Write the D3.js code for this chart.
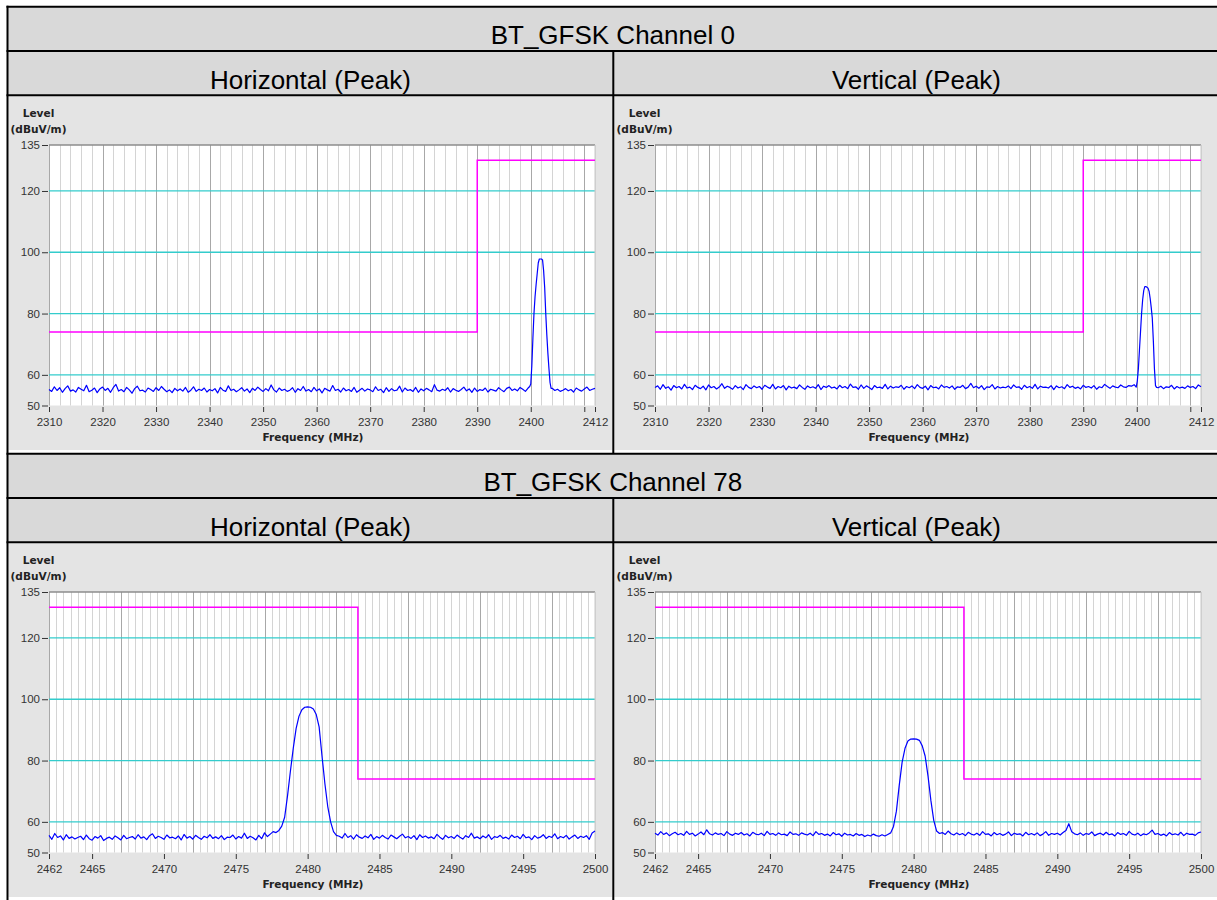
<!DOCTYPE html>
<html>
<head>
<meta charset="utf-8">
<script src="https://cdn.jsdelivr.net/npm/d3@7"></script>
<style>
  body { margin: 0; background: #fff; }
  svg { display: block; }
</style>
</head>
<body>
<svg id="page" width="1217" height="900"></svg>
<script>
// ---- data ----
const blockTitles = ["BT_GFSK Channel 0", "BT_GFSK Channel 78"];
const colTitles = ["Horizontal (Peak)", "Vertical (Peak)"];

const yTicks = [50, 60, 80, 100, 120, 135];
const yGrid = [60, 80, 100, 120];

const ch0Domain = [2310, 2412];
const ch0Ticks = [2310, 2320, 2330, 2340, 2350, 2360, 2370, 2380, 2390, 2400, 2410, 2412];
const ch0Unlabelled = [2410];
const ch0Limit = [[2310, 74], [2390, 74], [2390, 130], [2412, 130]];

const ch78Domain = [2462, 2500];
const ch78Ticks = [2462, 2465, 2470, 2475, 2480, 2485, 2490, 2495, 2500];
const ch78Unlabelled = [];
const ch78Limit = [[2462, 130], [2483.5, 130], [2483.5, 74], [2500, 74]];

// Channel 0, horizontal: noise floor 2310..2399.5 MHz (0.5 MHz steps)
const hCh0NoiseLo = [
  55.2,54.6,56.1,54.9,55.8,54.3,55.5,56.4,54.7,55.1,
  54.4,55.9,55.3,54.8,56.6,54.5,55.0,55.7,54.2,55.4,
  56.0,54.9,55.6,54.3,55.8,56.9,54.7,55.2,54.5,55.9,
  55.1,54.0,55.5,56.3,54.8,55.0,54.4,55.7,55.2,54.6,
  55.8,54.9,56.2,55.3,54.5,55.1,54.2,55.6,54.8,55.4,
  54.7,55.9,54.3,55.0,56.1,54.6,55.3,54.9,55.7,54.4,
  55.2,54.8,55.5,54.1,55.9,55.0,54.6,56.4,54.9,55.3,
  54.5,55.1,55.8,54.7,55.4,54.2,55.6,54.9,56.0,55.2,
  54.6,55.5,54.8,56.7,55.1,54.4,55.7,54.9,55.3,54.6,
  55.0,55.8,54.3,55.5,54.9,56.2,54.7,55.2,54.5,55.9,
  54.8,55.4,54.1,55.6,55.1,54.7,56.5,54.9,55.3,54.4,
  55.7,54.8,55.2,54.6,55.9,54.3,55.0,55.6,54.7,55.4,
  55.1,54.5,56.1,54.9,55.3,54.2,55.8,54.6,55.5,54.8,
  55.0,56.3,54.4,55.7,54.9,55.2,54.6,55.9,54.3,55.4,
  54.8,55.6,55.1,54.5,56.8,55.0,54.7,55.3,54.9,55.8,
  54.4,55.5,55.0,54.6,55.2,56.0,54.8,55.4,54.3,55.7,
  54.6,55.2,54.9,55.7,54.4,55.3,55.0,54.7,55.8,55.1,
  54.5,55.6,56.0,54.9,55.4,54.8,55.9,55.3,54.6,55.7
];
const hCh0Peak = [
  [2399.8,56.2],[2400.0,57.0],[2400.2,63.0],[2400.4,72.0],[2400.6,80.0],[2400.8,85.5],
  [2401.0,89.5],[2401.2,93.0],[2401.4,96.5],[2401.6,97.8],[2401.8,97.8],[2402.0,97.8],
  [2402.2,97.5],[2402.4,94.0],[2402.6,88.5],[2402.8,80.0],[2403.0,73.0],[2403.2,67.0],
  [2403.4,62.0],[2403.6,57.5],[2403.8,55.6]
];
// 2404..2412 MHz
const hCh0NoiseHi = [55.6,54.9,55.3,54.6,55.0,55.5,54.8,55.2,54.4,55.7,55.1,54.7,55.4,56.0,54.9,55.3,55.6];

// Channel 0, vertical
const vCh0NoiseLo = [
  55.9,56.4,55.3,56.8,55.6,56.1,55.0,56.5,55.8,56.2,
  55.4,56.9,55.7,56.0,55.2,56.6,55.9,55.5,56.3,55.1,
  56.7,55.8,56.2,55.4,56.0,57.1,55.6,56.3,55.9,55.3,
  56.5,55.7,56.1,55.2,56.8,55.9,55.5,56.4,55.8,56.2,
  55.3,56.6,56.0,55.6,56.9,55.4,56.2,55.8,56.5,55.1,
  56.3,55.7,56.0,55.5,56.7,55.9,55.3,56.4,55.8,56.1,
  55.6,56.8,55.2,56.3,55.9,56.5,55.7,56.0,55.4,56.6,
  55.8,56.2,55.5,57.0,55.9,56.1,55.3,56.7,55.6,56.4,
  55.9,55.2,56.5,55.8,56.0,55.6,56.9,55.4,56.3,55.7,
  56.1,55.9,56.6,55.3,56.2,55.8,56.4,55.5,56.8,55.9,
  55.6,56.3,55.1,56.5,55.8,56.0,55.4,56.7,55.9,56.2,
  55.7,56.4,55.3,56.1,55.9,56.6,55.5,56.0,57.2,55.8,
  56.3,55.6,56.5,55.2,56.1,55.9,56.8,55.4,56.2,55.7,
  56.0,55.8,56.4,55.5,56.7,55.9,56.1,55.3,56.6,55.8,
  56.2,55.6,56.9,55.4,56.3,55.9,56.0,55.7,56.5,55.2,
  56.4,55.8,56.1,55.5,56.8,55.9,56.3,55.6,56.0,55.4,
  56.6,55.9,56.2,55.7,56.5,55.3,56.1,55.8,56.9,56.2,
  55.6,56.4,56.0,55.8,56.7,56.1,55.9,56.5,56.3,56.8
];
const vCh0Peak = [
  [2399.9,56.0],[2400.1,58.0],[2400.3,62.0],[2400.5,68.0],[2400.7,74.0],[2400.9,80.0],
  [2401.1,84.5],[2401.3,87.5],[2401.5,88.8],[2401.7,88.8],[2401.9,88.6],[2402.1,88.3],
  [2402.3,87.3],[2402.5,85.0],[2402.7,82.0],[2402.9,78.5],[2403.1,71.0],[2403.3,62.0],
  [2403.5,56.5],[2403.7,55.9]
];
const vCh0NoiseHi = [55.8,56.3,55.5,56.1,55.9,56.6,55.4,56.2,55.7,56.0,55.6,56.4,55.9,56.2,55.5,56.7,56.1];

// Channel 78, horizontal: 2462..2477.6 MHz (0.2 MHz steps)
const hCh78NoiseLo = [
  55.6,54.3,56.2,54.9,55.4,54.1,55.8,54.6,55.1,54.4,
  54.9,55.3,54.2,55.7,54.5,54.0,55.2,54.7,55.5,53.9,
  54.6,55.0,54.3,55.4,54.8,54.1,55.6,54.5,54.9,55.2,
  54.4,55.8,54.7,55.1,54.2,55.5,56.1,54.6,55.3,54.9,
  54.3,55.7,54.8,55.0,54.5,55.4,54.1,55.9,54.7,55.2,
  54.4,55.6,54.9,54.3,55.3,54.8,55.8,54.6,55.1,54.5,
  55.5,54.2,55.0,54.9,55.7,54.4,55.2,54.7,56.3,54.6,
  55.3,54.8,54.1,55.6,54.5,56.4,55.2,56.0,56.8
];
const hCh78Peak = [
  [2477.8,56.5],[2478.0,57.2],[2478.2,58.6],[2478.4,61.5],[2478.6,68.5],[2478.8,76.5],
  [2479.0,84.0],[2479.2,90.5],[2479.4,94.5],[2479.6,96.6],[2479.8,97.4],[2480.0,97.5],
  [2480.2,97.4],[2480.4,96.8],[2480.6,95.0],[2480.8,91.0],[2481.0,81.5],[2481.2,72.5],
  [2481.4,65.0],[2481.6,60.0],[2481.8,56.8],[2482.0,55.6]
];
// 2482.2..2500 MHz
const hCh78NoiseHi = [
  55.3,54.7,56.2,54.9,55.5,54.4,55.8,55.0,54.6,55.4,
  54.8,55.9,54.3,55.2,54.7,55.6,54.9,54.4,55.7,55.1,
  54.5,55.3,56.0,54.8,55.2,54.6,55.5,54.2,55.8,54.9,
  55.4,54.7,55.1,54.5,55.9,55.0,54.3,55.6,54.8,55.2,
  54.6,55.7,55.0,54.4,55.5,54.9,56.3,54.7,55.1,54.5,
  55.4,54.8,55.8,54.3,55.2,54.9,55.6,54.6,55.0,54.4,
  55.7,54.9,55.3,54.5,55.9,54.8,55.1,54.2,55.5,54.7,
  55.0,55.8,54.6,55.3,54.9,56.1,54.5,55.2,54.8,55.6,
  54.4,55.1,55.7,54.6,55.3,54.9,55.5,54.3,56.4,57.0
];

// Channel 78, vertical: 2462..2478.2 MHz
const vCh78NoiseLo = [
  56.3,55.7,56.8,55.9,56.4,55.5,56.1,56.6,55.8,56.2,
  55.6,56.9,55.9,56.3,55.4,56.0,56.7,55.8,57.4,56.1,
  55.7,56.4,55.9,56.2,55.5,56.8,56.0,55.6,56.3,55.9,
  56.5,55.7,56.1,55.4,56.6,56.0,55.8,56.3,55.5,56.9,
  55.9,56.2,55.6,56.4,55.8,56.0,55.5,56.7,55.9,56.1,
  55.6,56.4,56.0,55.7,56.3,55.5,56.8,55.9,56.2,55.6,
  56.0,55.4,56.5,55.8,56.1,55.3,56.3,55.7,55.9,55.4,
  56.2,55.6,55.9,55.2,55.7,55.4,56.0,55.5,55.3,55.8,
  55.4,55.9
];
const vCh78Peak = [
  [2478.4,56.4],[2478.6,58.5],[2478.8,63.5],[2479.0,72.0],[2479.2,79.5],[2479.4,84.0],
  [2479.6,86.4],[2479.8,87.0],[2480.0,87.1],[2480.2,87.0],[2480.4,86.6],[2480.6,84.8],
  [2480.8,81.5],[2481.0,75.0],[2481.2,67.0],[2481.4,60.5],[2481.6,57.0],[2481.8,56.2]
];
// 2482.0..2500 MHz
const vCh78NoiseHi = [
  56.5,55.9,57.0,56.1,55.7,56.4,55.8,56.2,55.5,56.6,
  56.0,55.7,56.3,55.6,56.8,55.9,56.1,55.4,56.5,55.8,
  56.2,55.6,56.0,56.7,55.5,56.3,55.9,56.1,55.4,56.6,
  55.8,56.2,55.7,56.4,55.5,56.0,56.8,55.6,56.2,55.9,
  56.3,55.7,56.5,57.2,59.4,56.8,56.1,55.8,56.4,55.6,
  56.2,55.9,56.7,55.5,56.0,56.3,55.7,56.6,55.8,56.1,
  55.4,56.5,55.9,56.2,55.6,56.9,56.0,55.7,56.3,55.5,
  56.1,55.8,56.4,57.3,55.9,56.2,55.6,56.0,55.4,56.5,
  55.8,56.1,55.7,56.6,55.5,56.3,55.9,56.0,55.6,56.4,
  56.7
];

// sweep points: [start MHz, step MHz, levels]
function sweep(start, step, levels) {
  return levels.map((v, i) => [+(start + i * step).toFixed(2), v]);
}

const panels = [
  { block: 0, col: 0, domain: ch0Domain, ticks: ch0Ticks, hide: ch0Unlabelled, limit: ch0Limit,
    minorStep: 2, majorStep: 10,
    trace: [...sweep(2310, 0.5, hCh0NoiseLo), ...hCh0Peak, ...sweep(2404, 0.5, hCh0NoiseHi)] },
  { block: 0, col: 1, domain: ch0Domain, ticks: ch0Ticks, hide: ch0Unlabelled, limit: ch0Limit,
    minorStep: 2, majorStep: 10,
    trace: [...sweep(2310, 0.5, vCh0NoiseLo), ...vCh0Peak, ...sweep(2404, 0.5, vCh0NoiseHi)] },
  { block: 1, col: 0, domain: ch78Domain, ticks: ch78Ticks, hide: ch78Unlabelled, limit: ch78Limit,
    minorStep: 0.5, majorStep: 5,
    trace: [...sweep(2462, 0.2, hCh78NoiseLo), ...hCh78Peak, ...sweep(2482.2, 0.2, hCh78NoiseHi)] },
  { block: 1, col: 1, domain: ch78Domain, ticks: ch78Ticks, hide: ch78Unlabelled, limit: ch78Limit,
    minorStep: 0.5, majorStep: 5,
    trace: [...sweep(2462, 0.2, vCh78NoiseLo), ...vCh78Peak, ...sweep(2482.0, 0.2, vCh78NoiseHi)] }
];

// ---- layout ----
const svg = d3.select("#page");
const sans = "'Liberation Sans', Arial, sans-serif";
const dejavu = "'DejaVu Sans', Verdana, sans-serif";
const blockH = 447;
const colW = 606;
const tableLeft = 7.5, tableRight = 1222, midX = 613.3;

blockTitles.forEach((title, b) => {
  const t = 6.7 + b * blockH;
  // header fills
  svg.append("rect").attr("x", tableLeft).attr("y", t).attr("width", tableRight - tableLeft)
    .attr("height", 88.5).attr("fill", "#d9d9d9");
  // chart image backgrounds
  [0, 1].forEach(c => {
    svg.append("rect")
      .attr("x", c === 0 ? 8.5 : 614.3).attr("y", t + 89.5)
      .attr("width", c === 0 ? 603.8 : 610).attr("height", 353.8)
      .attr("fill", "#e4e4e4");
  });

  svg.append("text").attr("x", 612.8).attr("y", t + 37.3)
    .attr("text-anchor", "middle").attr("font-family", sans).attr("font-size", 26)
    .attr("fill", "#000").text(title);
  colTitles.forEach((ct, c) => {
    svg.append("text").attr("x", c === 0 ? 310.4 : 916.5).attr("y", t + 81.8)
      .attr("text-anchor", "middle").attr("font-family", sans).attr("font-size", 26)
      .attr("fill", "#000").text(ct);
  });

  // table rules
  [t, t + 44.3, t + 88.5].forEach(yy => {
    svg.append("line").attr("x1", tableLeft - 1).attr("x2", tableRight)
      .attr("y1", yy).attr("y2", yy).attr("stroke", "#000").attr("stroke-width", 2);
  });
  svg.append("line").attr("x1", midX).attr("x2", midX)
    .attr("y1", t + 44.3).attr("y2", b === 0 ? t + blockH : 900)
    .attr("stroke", "#000").attr("stroke-width", 2);
});
svg.append("line").attr("x1", tableLeft).attr("x2", tableLeft).attr("y1", 5.7).attr("y2", 900)
  .attr("stroke", "#000").attr("stroke-width", 2);

// ---- charts ----
panels.forEach(p => {
  const dx = p.col * colW, dy = p.block * blockH;
  const x = d3.scaleLinear().domain(p.domain).range([49 + dx, 595 + dx]);
  const y = d3.scaleLinear().domain([50, 135]).range([405.5 + dy, 145 + dy]);
  const [x0, x1] = x.range();
  const [yb, yt] = y.range();
  const g = svg.append("g");

  g.append("rect").attr("x", x0).attr("y", yt).attr("width", x1 - x0).attr("height", yb - yt)
    .attr("fill", "#fff");

  const minor = d3.range(p.domain[0], p.domain[1] + 1e-6, p.minorStep);
  const major = d3.range(p.domain[0], p.domain[1] + 1e-6, p.majorStep);
  g.append("g").selectAll("line").data(minor).join("line")
    .attr("x1", d => Math.round(x(d)) + 0.5).attr("x2", d => Math.round(x(d)) + 0.5)
    .attr("y1", yt).attr("y2", yb).attr("stroke", "#d4d4d4").attr("stroke-width", 1);
  g.append("g").selectAll("line").data(major).join("line")
    .attr("x1", d => Math.round(x(d)) + 0.5).attr("x2", d => Math.round(x(d)) + 0.5)
    .attr("y1", yt).attr("y2", yb).attr("stroke", "#a8a8a8").attr("stroke-width", 1);
  g.append("g").selectAll("line").data(yGrid).join("line")
    .attr("x1", x0).attr("x2", x1).attr("y1", d => y(d)).attr("y2", d => y(d))
    .attr("stroke", "#33cccc").attr("stroke-width", 1.3);

  // frame
  g.append("line").attr("x1", x0).attr("x2", x1).attr("y1", yt).attr("y2", yt)
    .attr("stroke", "#8c8c8c").attr("stroke-width", 1.3);
  g.append("line").attr("x1", x1).attr("x2", x1).attr("y1", yt).attr("y2", yb)
    .attr("stroke", "#c8c8c8").attr("stroke-width", 1);

  const line = d3.line().x(d => x(d[0])).y(d => y(d[1]));
  g.append("path").datum(p.limit).attr("d", line).attr("fill", "none")
    .attr("stroke", "#ff00ff").attr("stroke-width", 1.5);
  g.append("path").datum(p.trace).attr("d", line).attr("fill", "none")
    .attr("stroke", "#0000ff").attr("stroke-width", 1.2).attr("stroke-linejoin", "round");

  // axes
  const gx = g.append("g").attr("transform", `translate(0,${yb + 1.5})`)
    .call(d3.axisBottom(x).tickValues(p.ticks).tickSize(5).tickPadding(6)
      .tickFormat(d => p.hide.includes(d) ? "" : d));
  gx.select(".domain").remove();
  gx.selectAll("line").attr("stroke", "#333");
  gx.selectAll("text").attr("font-family", sans).attr("font-size", 11.5).attr("fill", "#333");

  const gy = g.append("g").attr("transform", `translate(${x0 - 1},0)`)
    .call(d3.axisLeft(y).tickValues(yTicks).tickSize(6).tickPadding(2));
  gy.select(".domain").remove();
  gy.selectAll("line").attr("stroke", "#333");
  gy.selectAll("text").attr("font-family", sans).attr("font-size", 11.5).attr("fill", "#333");

  g.append("text").attr("x", 38.5 + dx).attr("y", 117.3 + dy).attr("text-anchor", "middle")
    .attr("font-family", dejavu).attr("font-weight", "bold").attr("font-size", 10.6)
    .attr("fill", "#222").text("Level");
  g.append("text").attr("x", 38.5 + dx).attr("y", 133.3 + dy).attr("text-anchor", "middle")
    .attr("font-family", dejavu).attr("font-weight", "bold").attr("font-size", 10.6)
    .attr("fill", "#222").text("(dBuV/m)");
  g.append("text").attr("x", 313 + dx).attr("y", 441 + dy).attr("text-anchor", "middle")
    .attr("font-family", dejavu).attr("font-weight", "bold").attr("font-size", 10.6)
    .attr("fill", "#222").text("Frequency (MHz)");
});
</script>
</body>
</html>
